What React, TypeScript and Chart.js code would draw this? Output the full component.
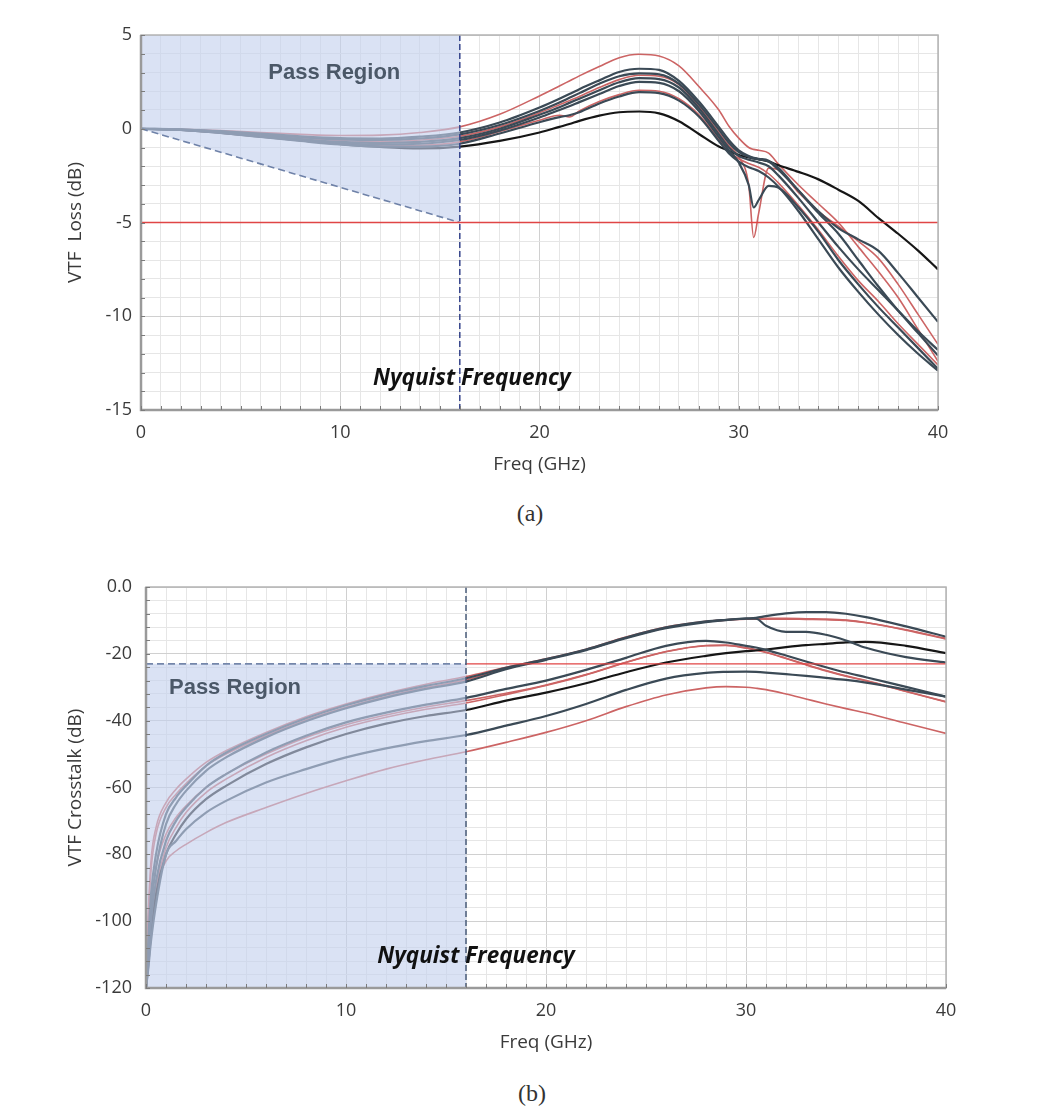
import { useEffect, useRef } from 'react';
import { Chart, registerables } from 'chart.js';

Chart.register(...registerables);

// ---------- (a) VTF loss, dB vs GHz ----------
const FREQ_A = [0, 2, 4, 6, 8, 10, 12, 14, 16, 18, 20, 21, 21.5, 22, 23, 24, 25, 26, 27, 28, 29, 29.5, 30, 30.5, 30.75, 31, 31.5, 32, 33, 34, 35, 36, 37, 38, 39, 40];

const LOSS_1 = [0, -0.03, -0.1, -0.2, -0.3, -0.36, -0.34, -0.2, 0.1, 0.77, 1.75, 2.28, 2.55, 2.82, 3.32, 3.79, 3.97, 3.88, 3.35, 2.25, 1.0, 0.15, -0.5, -1.0, -1.1, -1.15, -1.3, -1.9, -3.0, -4.0, -5.0, -6.3, -7.6, -9.0, -10.7, -12.4];
const LOSS_2 = [0, -0.04, -0.13, -0.26, -0.4, -0.5, -0.52, -0.42, -0.2, 0.33, 1.13, 1.6, 1.85, 2.11, 2.58, 3.03, 3.2, 3.14, 2.55, 1.45, 0.1, -0.6, -1.15, -1.45, -1.55, -1.6, -1.7, -2.1, -3.3, -4.5, -5.6, -7.0, -8.4, -9.7, -10.9, -12.1];
const LOSS_3 = [0, -0.04, -0.15, -0.3, -0.45, -0.57, -0.6, -0.52, -0.3, 0.2, 0.95, 1.4, 1.65, 1.9, 2.4, 2.8, 2.95, 2.9, 2.4, 1.3, -0.05, -0.75, -1.25, -1.5, -1.58, -1.62, -1.75, -2.2, -3.3, -4.4, -5.3, -5.9, -6.5, -7.7, -9.0, -10.3];
const LOSS_4 = [0, -0.05, -0.17, -0.33, -0.5, -0.63, -0.68, -0.6, -0.4, 0.1, 0.85, 1.28, 1.5, 1.72, 2.2, 2.62, 2.85, 2.8, 2.35, 1.2, -0.2, -0.9, -1.5, -3.0, -5.8, -4.5, -2.1, -2.2, -3.4, -4.4, -5.2, -6.0, -6.9, -8.3, -9.9, -11.5];
const LOSS_5 = [0, -0.05, -0.18, -0.36, -0.55, -0.7, -0.76, -0.7, -0.5, 0.0, 0.75, 1.15, 1.38, 1.6, 2.05, 2.48, 2.7, 2.65, 2.2, 1.1, -0.3, -1.0, -1.45, -1.65, -1.72, -1.8, -2.0, -2.5, -3.7, -5.0, -6.3, -7.5, -8.6, -9.7, -10.8, -11.8];
const LOSS_6 = [0, -0.06, -0.2, -0.4, -0.6, -0.76, -0.84, -0.8, -0.6, -0.1, 0.6, 1.0, 1.2, 1.42, 1.85, 2.28, 2.5, 2.45, 2.0, 0.95, -0.45, -1.15, -1.8, -3.0, -4.2, -3.8, -3.05, -3.15, -4.2, -5.5, -7.0, -8.3, -9.5, -10.6, -11.7, -12.8];
const LOSS_7 = [0, -0.06, -0.22, -0.42, -0.62, -0.8, -0.9, -0.88, -0.7, -0.15, 0.45, 0.72, 0.63, 0.95, 1.45, 1.82, 2.05, 2.0, 1.6, 0.75, -0.55, -1.2, -1.6, -1.85, -1.95, -2.05, -2.4, -2.9, -4.1, -5.4, -6.8, -8.1, -9.2, -10.4, -11.5, -12.6];
const LOSS_8 = [0, -0.06, -0.22, -0.44, -0.65, -0.84, -0.95, -0.95, -0.8, -0.25, 0.35, 0.62, 0.72, 0.88, 1.35, 1.72, 1.95, 1.9, 1.5, 0.65, -0.65, -1.3, -1.75, -2.05, -2.15, -2.25, -2.6, -3.1, -4.4, -5.9, -7.4, -8.7, -9.9, -11.0, -12.0, -12.9];
const LOSS_9 = [0, -0.06, -0.22, -0.42, -0.62, -0.82, -0.97, -1.05, -0.95, -0.65, -0.2, 0.1, 0.25, 0.42, 0.7, 0.88, 0.92, 0.82, 0.4, -0.28, -0.95, -1.17, -1.4, -1.53, -1.58, -1.63, -1.75, -1.95, -2.3, -2.7, -3.25, -3.85, -4.75, -5.6, -6.5, -7.5];

// ---------- (b) VTF crosstalk, dB vs GHz ----------
const FREQ_B = [0, 0.1, 0.25, 0.5, 1, 1.5, 2, 3, 4, 6, 8, 10, 12, 14, 16, 18, 20, 22, 24, 26, 28, 29, 30, 30.5, 31, 32, 33, 34, 35, 36, 38, 40];

const XTALK_1 = [-120, -100, -82, -72, -64.5, -60.5, -57.5, -52.5, -49, -43.5, -38.8, -35, -31.8, -29.1, -26.8, -24.0, -21.5, -18.6, -15.0, -12.0, -10.3, -9.8, -9.5, -9.4, -9.4, -9.4, -9.5, -9.6, -9.9, -10.6, -12.8, -15.4];
const XTALK_2 = [-120, -108, -92, -80, -68, -63, -59.5, -53.5, -49.6, -44, -39.3, -35.4, -32.2, -29.6, -27.3, -24.2, -21.6, -18.7, -15.1, -12.1, -10.3, -9.8, -9.4, -9.2, -8.7, -7.9, -7.5, -7.5, -8.0, -9.0, -11.8, -14.9];
const XTALK_3 = [-120, -110, -96, -84, -71, -65, -61, -55, -51, -45, -40.2, -36.3, -33.1, -30.5, -28.3, -24.6, -21.8, -18.9, -15.3, -12.3, -10.5, -9.9, -9.5, -9.5, -11.6, -13.4, -13.4, -14.3, -16.0, -18.2, -21.0, -22.6];
const XTALK_4 = [-120, -102, -85, -74, -66, -62, -58.8, -53.5, -50, -44.5, -39.8, -36, -32.8, -30.1, -27.8, -24.4, -21.7, -18.8, -15.2, -12.2, -10.4, -9.9, -9.6, -9.6, -9.6, -9.6, -9.7, -9.8, -10.0, -10.7, -12.9, -15.6];
const XTALK_5 = [-120, -112, -100, -88, -76, -70, -66, -60, -56, -49.5, -44.5, -40.5, -37.6, -35.2, -33.2, -30.5, -28.0, -24.8, -21.2, -17.6, -16.1, -16.6, -17.6, -18.1, -18.8, -20.5, -22.3, -24.0, -25.6, -27.0, -29.9, -32.8];
const XTALK_6 = [-120, -110, -96, -84, -74, -69, -65.5, -60, -56, -50, -45, -41.2, -38.3, -35.9, -34.0, -31.8, -29.3, -26.2, -22.5, -19.3, -17.5, -17.4, -18.2, -18.8, -19.5, -21.3, -23.2, -25.0, -26.6, -28.0, -31.2, -34.3];
const XTALK_7 = [-120, -113, -102, -90, -78, -72, -67.5, -61.5, -57.5, -51, -46, -42, -39, -36.6, -34.7, -32.2, -29.5, -26.3, -22.6, -19.4, -17.6, -17.5, -18.3, -18.9, -19.6, -21.4, -23.3, -25.1, -26.7, -28.1, -31.3, -34.4];
const XTALK_8 = [-120, -114, -104, -92, -80, -74, -69.5, -63.5, -59.5, -53, -48, -44, -40.9, -38.6, -36.8, -34.0, -31.6, -28.8, -25.5, -22.6, -20.6, -19.8, -19.2, -19.0, -18.7, -18.0, -17.4, -17.0, -16.6, -16.4, -17.6, -19.8];
const XTALK_9 = [-120, -115, -106, -95, -80, -76, -72.5, -67.5, -64, -58.5, -54.5, -51, -48.3, -46.1, -44.3, -41.5, -38.6, -35.0, -30.8, -27.4, -25.7, -25.4, -25.3, -25.4, -25.6, -26.1, -26.6, -27.2, -27.8, -28.6, -30.7, -32.8];
const XTALK_10 = [-120, -112, -100, -90, -82, -79, -77, -73.5, -70.5, -66, -61.8, -58, -54.5, -51.7, -49.3, -46.5, -43.5, -40.0, -35.8, -32.3, -30.2, -29.8, -30.0, -30.3, -30.7, -32.0, -33.5, -35.0, -36.4, -37.7, -40.8, -43.8];

// ---------- limits and annotations ----------
const NYQUIST_GHZ = 16;
const LOSS_LIMIT_DB = -5;
const XTALK_LIMIT_DB = -23;
const FREQ_MAX = 40;
const LOSS_MIN = -15;
const LOSS_MAX = 5;
const XTALK_MIN = -120;
const XTALK_MAX = 0;

const PASS_LABEL = 'Pass Region';
const NYQUIST_LABEL = 'Nyquist Frequency';

// ---------- styling ----------
const RED = '#cc6464';
const SLATE = '#3b4a56';
const BLACK = '#161616';
const UI_FONT = '"Open Sans", "DejaVu Sans", sans-serif';
const GRID_MAJOR = '#d0d0d0';
const GRID_MINOR = '#e6e6e6';
const TEXT = '#3a3a3a';

type Series = { values: number[]; color: string };

const LOSS_SERIES: Series[] = [
  { values: LOSS_2, color: SLATE },
  { values: LOSS_3, color: SLATE },
  { values: LOSS_5, color: SLATE },
  { values: LOSS_6, color: SLATE },
  { values: LOSS_8, color: SLATE },
  { values: LOSS_9, color: BLACK },
  { values: LOSS_1, color: RED },
  { values: LOSS_4, color: RED },
  { values: LOSS_7, color: RED },
];

const XTALK_SERIES: Series[] = [
  { values: XTALK_2, color: SLATE },
  { values: XTALK_3, color: SLATE },
  { values: XTALK_5, color: SLATE },
  { values: XTALK_9, color: SLATE },
  { values: XTALK_8, color: BLACK },
  { values: XTALK_1, color: RED },
  { values: XTALK_4, color: RED },
  { values: XTALK_6, color: RED },
  { values: XTALK_7, color: RED },
  { values: XTALK_10, color: RED },
];

type Label = { text: string; x: number; y: number; font: string; color: string };

type OverlaySpec = {
  region: number[][];
  edge: number[][];
  edgeColor: string;
  nyquistColor: string;
  limitY: number;
  limitFrom: number;
  limitTo: number;
  labels: Label[];
  minorX: number;
  minorY: number;
};

function passRegionPlugin(spec: OverlaySpec) {
  return {
    id: 'passRegion',
    afterDatasetsDraw(chart: any) {
      const { ctx, chartArea: a } = chart;
      const xs = chart.scales.x;
      const ys = chart.scales.y;
      const px = (v: number) => xs.getPixelForValue(v);
      const py = (v: number) => ys.getPixelForValue(v);
      const path = (pts: number[][]) => {
        ctx.beginPath();
        pts.forEach((p, i) => (i ? ctx.lineTo(px(p[0]), py(p[1])) : ctx.moveTo(px(p[0]), py(p[1]))));
      };

      ctx.save();
      ctx.beginPath();
      ctx.rect(a.left, a.top, a.right - a.left, a.bottom - a.top);
      ctx.clip();

      // translucent pass region over the traces
      path(spec.region);
      ctx.closePath();
      ctx.fillStyle = 'rgba(196, 208, 238, 0.62)';
      ctx.fill();

      // dashed boundary of the region
      ctx.setLineDash([7, 4]);
      ctx.lineWidth = 1.6;
      ctx.strokeStyle = spec.edgeColor;
      path(spec.edge);
      ctx.stroke();

      // limit line
      ctx.setLineDash([]);
      ctx.lineWidth = 1.4;
      ctx.strokeStyle = '#e04545';
      path([[spec.limitFrom, spec.limitY], [spec.limitTo, spec.limitY]]);
      ctx.stroke();

      // Nyquist marker
      ctx.setLineDash([6, 3]);
      ctx.lineWidth = 1.5;
      ctx.strokeStyle = spec.nyquistColor;
      path([[NYQUIST_GHZ, ys.max], [NYQUIST_GHZ, ys.min]]);
      ctx.stroke();
      ctx.restore();

      ctx.save();
      ctx.textAlign = 'center';
      ctx.textBaseline = 'middle';
      spec.labels.forEach((l) => {
        ctx.font = l.font;
        ctx.fillStyle = l.color;
        ctx.fillText(l.text, px(l.x), py(l.y));
      });
      ctx.restore();
    },
    afterDraw(chart: any) {
      const { ctx, chartArea: a } = chart;
      const xs = chart.scales.x;
      const ys = chart.scales.y;
      ctx.save();
      // frame
      ctx.strokeStyle = '#b4b4b4';
      ctx.lineWidth = 1.5;
      ctx.strokeRect(a.left, a.top, a.right - a.left, a.bottom - a.top);
      ctx.strokeStyle = '#9a9a9a';
      ctx.lineWidth = 2.5;
      ctx.beginPath();
      ctx.moveTo(a.left, a.top);
      ctx.lineTo(a.left, a.bottom);
      ctx.lineTo(a.right, a.bottom);
      ctx.stroke();
      // small inward tick marks
      ctx.strokeStyle = '#7c7c7c';
      ctx.lineWidth = 1;
      ctx.beginPath();
      for (let v = xs.min; v <= xs.max + 1e-9; v += spec.minorX) {
        const x = Math.round(xs.getPixelForValue(v)) + 0.5;
        ctx.moveTo(x, a.bottom);
        ctx.lineTo(x, a.bottom - 4);
      }
      for (let v = ys.min; v <= ys.max + 1e-9; v += spec.minorY) {
        const y = Math.round(ys.getPixelForValue(v)) + 0.5;
        ctx.moveTo(a.left, y);
        ctx.lineTo(a.left + 4, y);
      }
      ctx.stroke();
      ctx.restore();
    },
  };
}

function buildChart(
  canvas: HTMLCanvasElement,
  freq: number[],
  series: Series[],
  y: { min: number; max: number; step: number; major: number; title: string; fmt: (v: number) => string },
  layout: { left: number; right: number; top: number; bottom: number; yWidth: number; tickPad: number },
  spec: OverlaySpec,
) {
  const datasets = series.map((s) => ({
    data: freq.map((f, i) => ({ x: f, y: s.values[i] })),
    borderColor: s.color,
    borderWidth: s.color === RED ? 1.6 : 2.2,
    pointRadius: 0,
    cubicInterpolationMode: 'monotone' as const,
    fill: false,
  }));

  return new Chart(canvas, {
    type: 'line',
    data: { datasets },
    plugins: [passRegionPlugin(spec)],
    options: {
      responsive: false,
      animation: false,
      devicePixelRatio: 1,
      layout: { padding: { left: layout.left, right: layout.right, top: layout.top, bottom: layout.bottom } },
      plugins: { legend: { display: false }, tooltip: { enabled: false } },
      scales: {
        x: {
          type: 'linear',
          min: 0,
          max: FREQ_MAX,
          afterFit: (s: any) => {
            s.height = 70;
          },
          border: { display: false },
          grid: {
            drawTicks: false,
            color: (c: any) => (c.tick && c.tick.value % 10 === 0 ? GRID_MAJOR : GRID_MINOR),
          },
          ticks: {
            stepSize: 1,
            maxTicksLimit: 1000,
            autoSkip: false,
            maxRotation: 0,
            padding: 12,
            color: TEXT,
            font: { family: UI_FONT, size: 18 },
            callback: (v: any) => (Number(v) % 10 === 0 ? String(v) : ''),
          },
          title: {
            display: true,
            text: 'Freq (GHz)',
            color: TEXT,
            font: { family: UI_FONT, size: 19 },
          },
        },
        y: {
          type: 'linear',
          min: y.min,
          max: y.max,
          afterFit: (s: any) => {
            s.width = layout.yWidth;
          },
          border: { display: false },
          grid: {
            drawTicks: false,
            color: (c: any) => (c.tick && c.tick.value % y.major === 0 ? GRID_MAJOR : GRID_MINOR),
          },
          ticks: {
            stepSize: y.step,
            maxTicksLimit: 1000,
            autoSkip: false,
            padding: layout.tickPad,
            color: TEXT,
            font: { family: UI_FONT, size: 18 },
            callback: (v: any) => (Number(v) % y.major === 0 ? y.fmt(Number(v)) : ''),
          },
          title: {
            display: true,
            text: y.title,
            color: TEXT,
            font: { family: UI_FONT, size: 19 },
          },
        },
      },
    },
  } as any);
}

const passFont = 'bold 22px "Liberation Sans", Arial, sans-serif';
const nyqFont = `italic bold 22.5px ${UI_FONT}`;

export default function App() {
  const lossRef = useRef<HTMLCanvasElement>(null);
  const xtalkRef = useRef<HTMLCanvasElement>(null);

  useEffect(() => {
    const lossChart = buildChart(
      lossRef.current!,
      FREQ_A,
      LOSS_SERIES,
      { min: LOSS_MIN, max: LOSS_MAX, step: 1, major: 5, title: 'VTF  Loss (dB)', fmt: (v) => String(v) },
      { left: 60, right: 106, top: 35, bottom: 10, yWidth: 81, tickPad: 9 },
      {
        region: [[0, LOSS_MAX], [NYQUIST_GHZ, LOSS_MAX], [NYQUIST_GHZ, LOSS_LIMIT_DB], [0, 0]],
        edge: [[0, 0], [NYQUIST_GHZ, LOSS_LIMIT_DB]],
        edgeColor: '#6f82a8',
        nyquistColor: '#34428a',
        limitY: LOSS_LIMIT_DB,
        limitFrom: 0,
        limitTo: FREQ_MAX,
        labels: [
          { text: PASS_LABEL, x: 9.7, y: 3.0, font: passFont, color: '#4b5868' },
          { text: NYQUIST_LABEL, x: 16.6, y: -13.3, font: nyqFont, color: '#111111' },
        ],
        minorX: 1,
        minorY: 1,
      },
    );

    const xtalkChart = buildChart(
      xtalkRef.current!,
      FREQ_B,
      XTALK_SERIES,
      { min: XTALK_MIN, max: XTALK_MAX, step: 4, major: 20, title: 'VTF Crosstalk (dB)', fmt: (v) => (v === 0 ? '0.0' : String(v)) },
      { left: 60, right: 98, top: 47, bottom: 2, yWidth: 86, tickPad: 14 },
      {
        region: [[0, XTALK_LIMIT_DB], [NYQUIST_GHZ, XTALK_LIMIT_DB], [NYQUIST_GHZ, XTALK_MIN], [0, XTALK_MIN]],
        edge: [[0, XTALK_LIMIT_DB], [NYQUIST_GHZ, XTALK_LIMIT_DB]],
        edgeColor: '#7486aa',
        nyquistColor: '#4a5c7a',
        limitY: XTALK_LIMIT_DB,
        limitFrom: NYQUIST_GHZ,
        limitTo: FREQ_MAX,
        labels: [
          { text: PASS_LABEL, x: 4.45, y: -30.2, font: passFont, color: '#4b5868' },
          { text: NYQUIST_LABEL, x: 16.5, y: -110.7, font: nyqFont, color: '#111111' },
        ],
        minorX: 1,
        minorY: 4,
      },
    );

    return () => {
      lossChart.destroy();
      xtalkChart.destroy();
    };
  }, []);

  const caption = {
    position: 'absolute' as const,
    width: 100,
    textAlign: 'center' as const,
    font: '24px "Liberation Serif", "Times New Roman", serif',
    lineHeight: '28px',
    color: '#333',
  };

  return (
    <div style={{ position: 'absolute', left: 0, top: 0, width: 1044, height: 1111, background: '#fff', overflow: 'hidden' }}>
      <canvas ref={lossRef} width={1044} height={490} style={{ position: 'absolute', left: 0, top: 0 }} />
      <div style={{ ...caption, left: 480, top: 499 }}>(a)</div>
      <canvas ref={xtalkRef} width={1044} height={520} style={{ position: 'absolute', left: 0, top: 540 }} />
      <div style={{ ...caption, left: 482, top: 1079 }}>(b)</div>
    </div>
  );
}
